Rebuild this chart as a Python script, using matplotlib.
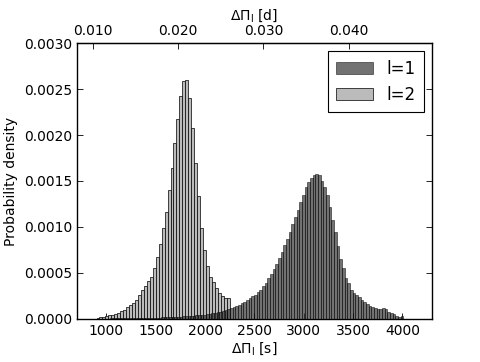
import matplotlib
matplotlib.use("Agg")
import matplotlib.pyplot as plt
import numpy as np
from matplotlib.ticker import FormatStrFormatter, FixedLocator

# ---- data ----
l1_start = 904.0     # left edge of first l=1 bin [s]
l1_width = 27.0      # l=1 bin width [s]
l1_density = [
    0.000003, 0.000003, 0.000004, 0.000004, 0.000004, 0.000005, 0.000005, 0.000005,
    0.000006, 0.000006, 0.000006, 0.000007, 0.000007, 0.000007, 0.000008, 0.000008,
    0.000009, 0.000010, 0.000010, 0.000011, 0.000012, 0.000013, 0.000014, 0.000015,
    0.000016, 0.000017, 0.000018, 0.000020, 0.000021, 0.000022, 0.000024, 0.000025,
    0.000027, 0.000029, 0.000031, 0.000033, 0.000035, 0.000038, 0.000040, 0.000043,
    0.000047, 0.000050, 0.000055, 0.000060, 0.000066, 0.000072, 0.000079, 0.000087,
    0.000096, 0.000106, 0.000116, 0.000127, 0.000141, 0.000155, 0.000172, 0.000188,
    0.000205, 0.000225, 0.000245, 0.000265, 0.000290, 0.000315, 0.000355, 0.000395,
    0.000440, 0.000490, 0.000545, 0.000600, 0.000665, 0.000730, 0.000800, 0.000870,
    0.000950, 0.001030, 0.001110, 0.001190, 0.001270, 0.001350, 0.001430, 0.001490,
    0.001530, 0.001560, 0.001575, 0.001560, 0.001500, 0.001440, 0.001350, 0.001220,
    0.001080, 0.000950, 0.000790, 0.000650, 0.000550, 0.000450, 0.000390, 0.000315,
    0.000279, 0.000255, 0.000235, 0.000207, 0.000185, 0.000163, 0.000141, 0.000127,
    0.000116, 0.000109, 0.000105, 0.000116, 0.000105, 0.000080, 0.000062, 0.000051,
    0.000033, 0.000025, 0.000030,
]

l2_start = 900.0     # left edge of first l=2 bin [s]
l2_width = 30.0      # l=2 bin width [s]
l2_density = [
    0.000012, 0.000018, 0.000022, 0.000030, 0.000040, 0.000047, 0.000058, 0.000069,
    0.000083, 0.000100, 0.000127, 0.000149, 0.000178, 0.000207, 0.000261, 0.000315,
    0.000359, 0.000413, 0.000460, 0.000558, 0.000678, 0.000810, 0.000986, 0.001167,
    0.001402, 0.001638, 0.001910, 0.002174, 0.002428, 0.002590, 0.002598, 0.002406,
    0.002080, 0.001700, 0.001337, 0.000993, 0.000750, 0.000576, 0.000460, 0.000406,
    0.000333, 0.000279, 0.000250, 0.000232, 0.000225,
]

labels = ["l=1", "l=2"]
yticks = [0.0, 0.0005, 0.0010, 0.0015, 0.0020, 0.0025, 0.0030]
xticks = [1000, 1500, 2000, 2500, 3000, 3500, 4000]
dticks = [0.010, 0.020, 0.030, 0.040]
sec_per_day = 86400.0

# ---- plot ----
plt.rcParams['font.family'] = ['DejaVu Sans']
plt.rcParams['mathtext.fontset'] = 'dejavusans'
plt.rcParams['xtick.direction'] = 'in'
plt.rcParams['ytick.direction'] = 'in'

fig = plt.figure(figsize=(4.8, 3.62), dpi=100)
ax = fig.add_axes([0.160, 0.119, 0.740, 0.762])

l1_edges = l1_start + l1_width * np.arange(len(l1_density))
l2_edges = l2_start + l2_width * np.arange(len(l2_density))

b2 = ax.bar(l2_edges, l2_density, width=l2_width, align='edge',
            color='#bbbbbb', edgecolor='black', linewidth=0.5, label=labels[1], zorder=2)
b1 = ax.bar(l1_edges, l1_density, width=l1_width, align='edge',
            color='#303030', alpha=0.68, edgecolor='black', linewidth=0.5,
            label=labels[0], zorder=3)

ax.set_xlim(700, 4300)
ax.set_ylim(0, 0.003)
ax.set_xticks(xticks)
ax.set_yticks(yticks)
ax.yaxis.set_major_formatter(FormatStrFormatter('%.4f'))
ax.tick_params(axis='both', labelsize=10, length=4, width=0.6,
               right=True, top=False)
ax.set_xlabel(r'$\Delta\Pi_{\rm l}$ [s]', fontsize=10, labelpad=2)
ax.set_ylabel('Probability density', fontsize=10, labelpad=4)
for sp in ax.spines.values():
    sp.set_linewidth(1.0)

sec = ax.secondary_xaxis('top', functions=(lambda s: s / sec_per_day,
                                           lambda d: d * sec_per_day))
sec.xaxis.set_major_locator(FixedLocator(dticks))
sec.xaxis.set_major_formatter(FormatStrFormatter('%.3f'))
sec.tick_params(labelsize=10, length=4, width=0.6, direction='in')
sec.set_xlabel(r'$\Delta\Pi_{\rm l}$ [d]', fontsize=10, labelpad=3)

leg = ax.legend(handles=[b1, b2], labels=labels, loc='upper right', fontsize=12,
                fancybox=False, framealpha=1, edgecolor='black', handlelength=2.2,
                borderpad=0.5, labelspacing=0.5, handletextpad=0.8)
leg.get_frame().set_linewidth(0.8)

fig.savefig('out.png', dpi=100, facecolor='white')
